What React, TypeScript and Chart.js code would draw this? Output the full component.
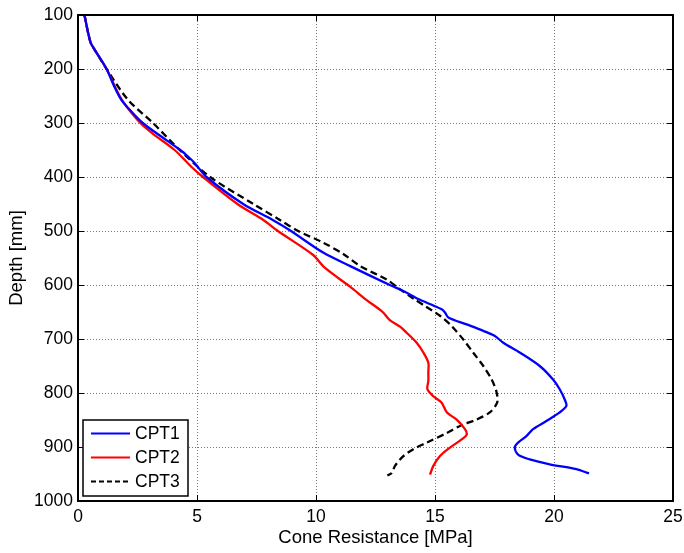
import React, { useEffect, useRef } from "react";
import { Chart, registerables } from "chart.js";

Chart.register(...registerables);

const seriesLabels = ["CPT1", "CPT2", "CPT3"];
const seriesColors = ["#0000ff", "#ff0000", "#000000"];

const cpt1Depth = [100, 150, 165, 200, 230, 257, 282, 300, 319, 350, 362, 374, 400, 450, 480, 500, 540, 565, 600, 611, 626, 638, 645, 651, 660, 673, 685, 694, 707, 725, 750, 775, 793, 812, 824, 836, 852, 867, 880, 892, 901, 914, 923, 932, 941, 949];
const cpt1Qc = [0.27, 0.52, 0.71, 1.2, 1.5, 1.82, 2.31, 2.72, 3.3, 4.3, 4.62, 4.9, 5.4, 6.94, 8.2, 8.95, 10.3, 11.44, 13.1, 13.67, 14.3, 14.93, 15.28, 15.42, 15.56, 16.33, 17.03, 17.5, 17.87, 18.56, 19.4, 19.96, 20.24, 20.45, 20.52, 20.24, 19.68, 19.12, 18.84, 18.49, 18.35, 18.49, 18.98, 19.82, 20.94, 21.47];

const cpt2Depth = [100, 150, 165, 200, 250, 270, 300, 320, 350, 381, 400, 450, 480, 500, 544, 565, 585, 603, 628, 650, 665, 677, 688, 707, 725, 744, 762, 778, 793, 806, 818, 836, 849, 867, 877, 886, 901, 917, 935, 951];
const cpt2Qc = [0.27, 0.52, 0.71, 1.2, 1.75, 2.05, 2.62, 3.15, 4.06, 4.76, 5.25, 6.7, 7.8, 8.4, 9.87, 10.3, 10.87, 11.43, 12.13, 12.8, 13.1, 13.53, 13.8, 14.23, 14.51, 14.72, 14.72, 14.72, 14.68, 14.93, 15.28, 15.5, 15.9, 16.26, 16.33, 16.12, 15.63, 15.2, 14.93, 14.79];

const cpt3Depth = [100, 150, 165, 200, 257, 300, 350, 400, 450, 480, 500, 522, 543, 565, 590, 608, 627, 639, 657, 676, 701, 725, 750, 775, 799, 818, 836, 849, 861, 874, 892, 904, 917, 935, 948, 953];
const cpt3Qc = [0.27, 0.52, 0.71, 1.2, 2.1, 3.15, 4.27, 5.55, 7.37, 8.5, 9.25, 10.32, 11.16, 11.86, 12.97, 13.53, 14.16, 14.58, 15.21, 15.7, 16.19, 16.6, 17.03, 17.38, 17.59, 17.61, 17.3, 16.75, 16.05, 15.5, 14.65, 14.09, 13.67, 13.32, 13.18, 13.0];

const xTitle = "Cone Resistance [MPa]";
const yTitle = "Depth [mm]";

const FONT = "'Liberation Sans', Arial, sans-serif";

const boxPlugin = {
  id: "boxAndLegend",
  afterDraw(chart: any) {
    const { ctx, chartArea: a, scales } = chart;
    ctx.save();
    ctx.strokeStyle = "#000";
    ctx.lineWidth = 1;
    const xs = scales.x, ys = scales.y;
    xs.ticks.forEach((t: any) => {
      const px = Math.round(xs.getPixelForValue(t.value)) + 0.5;
      ctx.beginPath();
      ctx.moveTo(px, a.bottom); ctx.lineTo(px, a.bottom - 6);
      ctx.moveTo(px, a.top); ctx.lineTo(px, a.top + 6);
      ctx.stroke();
    });
    ys.ticks.forEach((t: any) => {
      const py = Math.round(ys.getPixelForValue(t.value)) + 0.5;
      ctx.beginPath();
      ctx.moveTo(a.left, py); ctx.lineTo(a.left + 6, py);
      ctx.moveTo(a.right, py); ctx.lineTo(a.right - 6, py);
      ctx.stroke();
    });
    ctx.lineWidth = 2;
    ctx.strokeRect(a.left, a.top, a.right - a.left, a.bottom - a.top);
    const lx = a.left + 5, ly = a.bottom - 81, lw = 105, lh = 76;
    ctx.fillStyle = "#fff";
    ctx.fillRect(lx, ly, lw, lh);
    ctx.lineWidth = 1.5;
    ctx.strokeStyle = "#000";
    ctx.strokeRect(lx, ly, lw, lh);
    ctx.font = "17.5px " + FONT;
    ctx.textBaseline = "middle";
    seriesLabels.forEach((lab, i) => {
      const y = ly + 13.5 + i * 24;
      ctx.beginPath();
      ctx.strokeStyle = seriesColors[i];
      ctx.lineWidth = 2.2;
      ctx.setLineDash(i === 2 ? [5, 3] : []);
      ctx.moveTo(lx + 8, y); ctx.lineTo(lx + 47, y);
      ctx.stroke();
      ctx.setLineDash([]);
      ctx.fillStyle = "#000";
      ctx.fillText(lab, lx + 52, y + 1);
    });
    ctx.restore();
  },
};

export default function App() {
  const ref = useRef<HTMLCanvasElement>(null);
  useEffect(() => {
    const mk = (d: number[], q: number[]) => d.map((y, i) => ({ x: q[i], y }));
    const data = [mk(cpt1Depth, cpt1Qc), mk(cpt2Depth, cpt2Qc), mk(cpt3Depth, cpt3Qc)];
    const chart = new Chart(ref.current!, {
      type: "scatter",
      data: {
        datasets: seriesLabels.map((label, i) => ({
          label,
          data: data[i],
          showLine: true,
          borderColor: seriesColors[i],
          backgroundColor: seriesColors[i],
          borderWidth: 2.3,
          borderDash: i === 2 ? [7, 4] : [],
          pointRadius: 0,
          tension: 0.3,
        })),
      },
      options: {
        responsive: false,
        animation: false,
        layout: { padding: { left: 0, right: 11, top: 15, bottom: 0 } },
        plugins: { legend: { display: false }, tooltip: { enabled: false } },
        scales: {
          x: {
            type: "linear",
            min: 0,
            max: 25,
            ticks: { stepSize: 5, color: "#000", font: { size: 17.5, family: FONT }, padding: 6, callback: (v: any) => String(v) },
            grid: { color: "#777", lineWidth: 1, drawTicks: false, tickLength: 0 },
            border: { display: false, dash: [1, 2] },
            title: { display: true, text: xTitle, color: "#000", font: { size: 18.5, family: FONT }, padding: { top: 2, bottom: 3.5 } },
            afterFit(scale: any) { scale.height = 52; scale.paddingRight = 0; scale.paddingLeft = 0; },
          },
          y: {
            type: "linear",
            min: 100,
            max: 1000,
            reverse: true,
            ticks: { stepSize: 100, color: "#000", font: { size: 17.5, family: FONT }, padding: 5, callback: (v: any) => String(v) },
            grid: { color: "#777", lineWidth: 1, drawTicks: false, tickLength: 0 },
            border: { display: false, dash: [1, 2] },
            title: { display: true, text: yTitle, color: "#000", font: { size: 18.5, family: FONT }, padding: { top: 6, bottom: 2 } },
            afterFit(scale: any) { scale.width = 78; scale.paddingTop = 0; scale.paddingBottom = 0; },
          },
        },
      },
      plugins: [boxPlugin],
    } as any);
    return () => chart.destroy();
  }, []);
  return (
    <div style={{ position: "fixed", left: 0, top: 0, width: 684, height: 553, background: "#fff" }}>
      <canvas ref={ref} width={684} height={553} />
    </div>
  );
}
